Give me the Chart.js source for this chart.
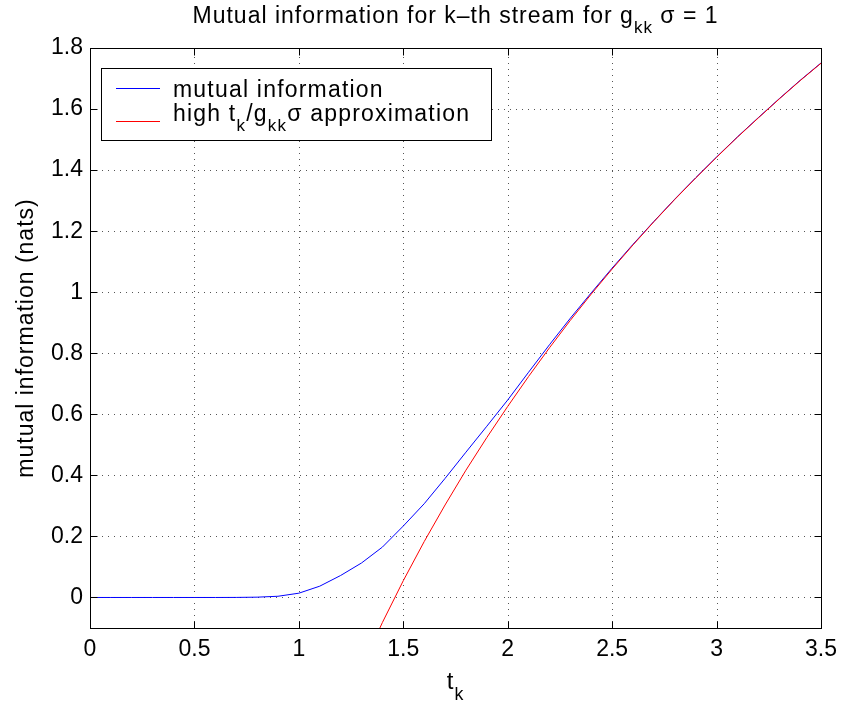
<!DOCTYPE html>
<html>
<head>
<meta charset="utf-8">
<script src="https://cdn.jsdelivr.net/npm/chart.js@4.4.1/dist/chart.umd.min.js"></script>
<style>
  html, body { margin: 0; padding: 0; background: #fff; }
  #wrap { width: 845px; height: 706px; }
</style>
</head>
<body>
<div id="wrap"><canvas id="miChart" width="845" height="706"></canvas></div>
<script>
// t_k samples and the exact mutual information (blue)
const tValues = [0, 0.1, 0.2, 0.3, 0.4, 0.5, 0.6, 0.7, 0.8, 0.9,
                 1.0, 1.1, 1.2, 1.3, 1.4, 1.5, 1.6, 1.7, 1.8, 1.9,
                 2.0, 2.1, 2.2, 2.3, 2.4, 2.5, 2.6, 2.7, 2.8, 2.9,
                 3.0, 3.1, 3.2, 3.3, 3.4, 3.5];
const mutualInfo = [0, 0, 0, 0, 0, 0, 0, 0.0002, 0.001, 0.004,
                    0.014, 0.037, 0.072, 0.113, 0.165, 0.234, 0.307, 0.390, 0.476, 0.561,
                    0.647, 0.738, 0.828, 0.915, 0.998, 1.079, 1.157, 1.232, 1.305, 1.375,
                    1.443, 1.509, 1.572, 1.634, 1.694, 1.751];

// high t_k/g_kk sigma approximation (red)
const approxT = [1.3, 1.4, 1.5, 1.6, 1.7, 1.8, 1.9, 2.0, 2.1, 2.2, 2.3, 2.4,
                 2.5, 2.6, 2.7, 2.8, 2.9, 3.0, 3.1, 3.2, 3.3, 3.4, 3.5];
const approxInfo = [-0.230, -0.082, 0.055, 0.183, 0.303, 0.417, 0.524, 0.626, 0.724, 0.818, 0.908, 0.994,
                    1.076, 1.155, 1.231, 1.304, 1.374, 1.442, 1.508, 1.571, 1.633, 1.693, 1.750];

const xTicks = [0, 0.5, 1, 1.5, 2, 2.5, 3, 3.5];
const yTicks = [0, 0.2, 0.4, 0.6, 0.8, 1, 1.2, 1.4, 1.6, 1.8];

const FONT = '"Liberation Sans", Arial, Helvetica, sans-serif';

// draw text with subscripts: parts = [[text, isSub], ...]
function drawRich(ctx, parts, x, y, size, align) {
  const subSize = size * 0.74;
  const widths = parts.map(([t, sub]) => {
    ctx.font = (sub ? subSize : size) + 'px ' + FONT;
    return ctx.measureText(t).width;
  });
  const total = widths.reduce((a, b) => a + b, 0);
  let cx = align === 'center' ? x - total / 2 : x;
  ctx.textAlign = 'left';
  ctx.textBaseline = 'alphabetic';
  parts.forEach(([t, sub], i) => {
    ctx.font = (sub ? subSize : size) + 'px ' + FONT;
    ctx.fillText(t, cx, sub ? y + size * 0.45 : y);
    cx += widths[i];
  });
}

const decor = {
  id: 'decor',
  beforeDatasetsDraw(chart) {
    const { ctx, chartArea: a, scales: { x, y } } = chart;
    ctx.save();
    ctx.strokeStyle = '#555';
    ctx.lineWidth = 1;
    ctx.setLineDash([1, 5]);
    xTicks.forEach(v => {
      const px = Math.round(x.getPixelForValue(v)) + 0.5;
      ctx.beginPath(); ctx.moveTo(px, a.bottom); ctx.lineTo(px, a.top); ctx.stroke();
    });
    yTicks.forEach(v => {
      const py = Math.round(y.getPixelForValue(v)) + 0.5;
      ctx.beginPath(); ctx.moveTo(a.left, py); ctx.lineTo(a.right, py); ctx.stroke();
    });
    ctx.restore();
  },
  afterDatasetsDraw(chart) {
    const { ctx, chartArea: a, scales: { x, y } } = chart;
    ctx.save();
    ctx.strokeStyle = '#000';
    ctx.lineWidth = 1;
    const L = Math.round(a.left) + 0.5, R = Math.round(a.right) + 0.5;
    const T = Math.round(a.top) + 0.5, B = Math.round(a.bottom) + 0.5;
    ctx.strokeRect(L, T, R - L, B - T);
    const tl = 7;
    ctx.beginPath();
    xTicks.forEach(v => {
      const px = Math.round(x.getPixelForValue(v)) + 0.5;
      ctx.moveTo(px, B); ctx.lineTo(px, B - tl);
      ctx.moveTo(px, T); ctx.lineTo(px, T + tl);
    });
    yTicks.forEach(v => {
      const py = Math.round(y.getPixelForValue(v)) + 0.5;
      ctx.moveTo(L, py); ctx.lineTo(L + tl, py);
      ctx.moveTo(R, py); ctx.lineTo(R - tl, py);
    });
    ctx.stroke();

    // legend box
    ctx.fillStyle = '#fff';
    ctx.fillRect(102, 68, 390, 72);
    ctx.strokeRect(101.5, 68.5, 390, 72);
    ctx.lineWidth = 1;
    ctx.strokeStyle = '#0000ff';
    ctx.beginPath(); ctx.moveTo(116, 88.5); ctx.lineTo(160, 88.5); ctx.stroke();
    ctx.strokeStyle = '#ff0000';
    ctx.beginPath(); ctx.moveTo(116, 121.5); ctx.lineTo(160, 121.5); ctx.stroke();
    ctx.fillStyle = '#000';
    ctx.letterSpacing = '1.2px';
    drawRich(ctx, [['mutual information', false]], 173, 97, 23, 'left');
    drawRich(ctx, [['high t', false], ['k', true], ['/g', false], ['kk', true], ['\u03c3 approximation', false]],
             173, 121, 23, 'left');
    ctx.restore();
  },
  afterDraw(chart) {
    const { ctx, chartArea: a } = chart;
    const cx = (a.left + a.right) / 2;
    ctx.save();
    ctx.fillStyle = '#000';
    ctx.letterSpacing = '1px';
    drawRich(ctx, [['Mutual information for k\u2013th stream for g', false], ['kk', true], [' \u03c3 = 1', false]],
             cx, 23, 23, 'center');
    drawRich(ctx, [['t', false], ['k', true]], cx, 689, 24, 'center');
    ctx.translate(33, (a.top + a.bottom) / 2);
    ctx.rotate(-Math.PI / 2);
    drawRich(ctx, [['mutual information (nats)', false]], 0, 0, 23, 'center');
    ctx.restore();
  }
};

const ctx = document.getElementById('miChart').getContext('2d');
new Chart(ctx, {
  type: 'line',
  data: {
    datasets: [
      {
        label: 'mutual information',
        data: tValues.map((t, i) => ({ x: t, y: mutualInfo[i] })),
        borderColor: '#0000ff',
        borderWidth: 1,
        pointRadius: 0,
        tension: 0,
        order: 1
      },
      {
        label: 'high t_k/g_kk sigma approximation',
        data: approxT.map((t, i) => ({ x: t, y: approxInfo[i] })),
        borderColor: '#ff0000',
        borderWidth: 1,
        pointRadius: 0,
        tension: 0,
        order: 0
      }
    ]
  },
  options: {
    responsive: false,
    animation: false,
    devicePixelRatio: 1,
    layout: { padding: { left: 0, top: 48, right: 18, bottom: 0 } },
    plugins: { legend: { display: false }, tooltip: { enabled: false }, title: { display: false } },
    scales: {
      x: {
        type: 'linear',
        min: 0,
        max: 3.5,
        afterBuildTicks: s => { s.ticks = xTicks.map(v => ({ value: v })); },
        afterFit: s => { s.height = 78; },
        grid: { display: false, drawTicks: false },
        border: { display: false },
        ticks: { color: '#000', font: { family: FONT, size: 23 }, padding: 8, maxRotation: 0,
                 callback: v => String(v) }
      },
      y: {
        type: 'linear',
        min: -0.1,
        max: 1.8,
        afterBuildTicks: s => { s.ticks = yTicks.map(v => ({ value: v })); },
        afterFit: s => { s.width = 90; },
        grid: { display: false, drawTicks: false },
        border: { display: false },
        ticks: { color: '#000', font: { family: FONT, size: 23 }, padding: 7,
                 callback: v => String(v) }
      }
    }
  },
  plugins: [decor]
});
</script>
</body>
</html>
